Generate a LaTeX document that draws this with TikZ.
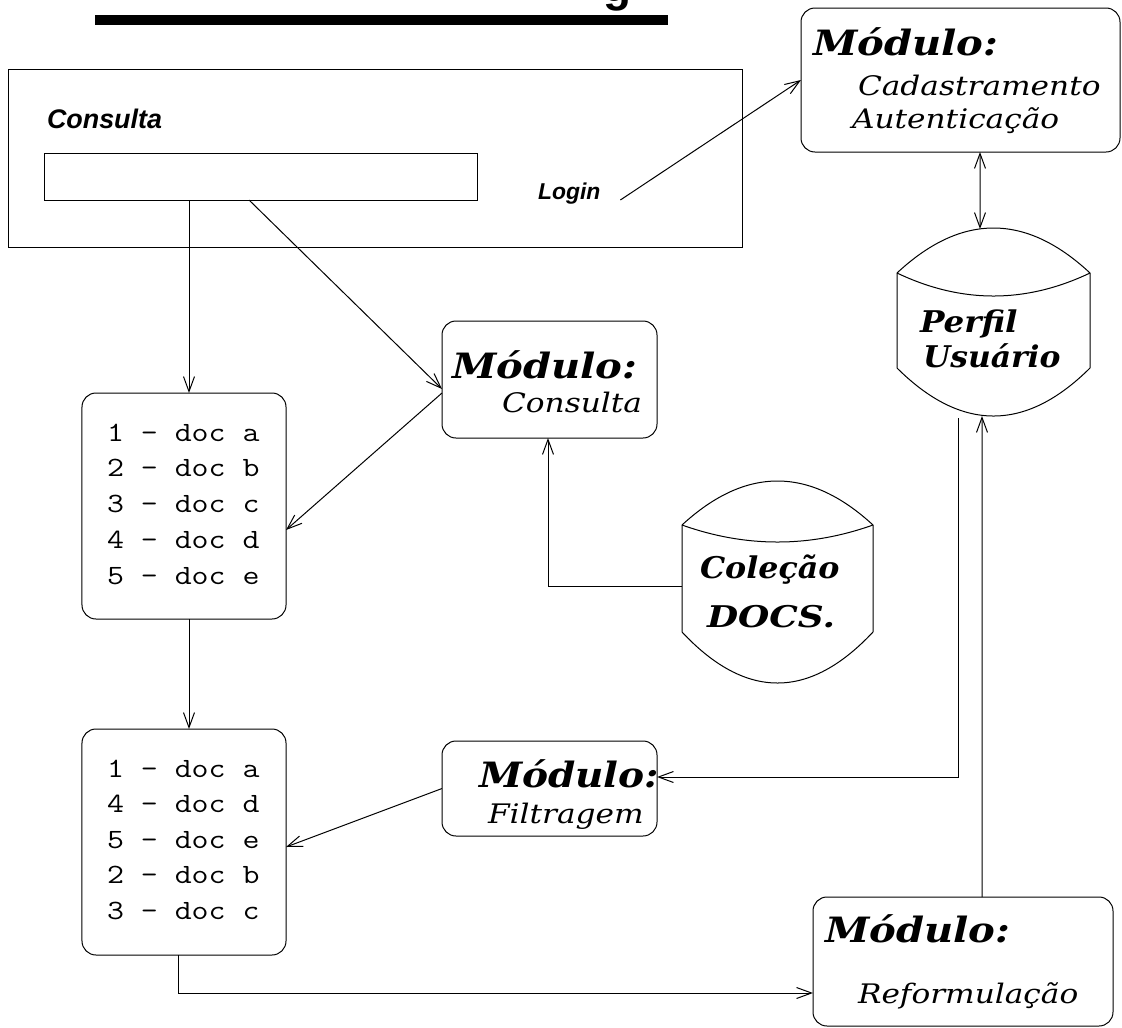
\documentclass[tikz,border=0pt]{standalone}
\usepackage{fontspec}
\usetikzlibrary{arrows.meta,calc}
\newfontfamily\sansbi{Liberation Sans}
\newfontfamily\serifwide{DejaVu Serif}
% horizontally widened text
\newcommand\wide[2][1.15]{\scalebox{#1}[1]{#2}}
% drum (database) outline: left x, right x, top apex, rim, inner apex, side bottom, bottom apex
\newcommand\drumpath[7]{%
  \pgfmathsetmacro\dmA{#1+(#2-#1)/3}%
  \pgfmathsetmacro\dmB{#2-(#2-#1)/3}%
  \pgfmathsetmacro\dmT{(#3-0.25*#4)/0.75}%
  \pgfmathsetmacro\dmI{(#5-0.25*#4)/0.75}%
  \pgfmathsetmacro\dmE{(#7-0.25*#6)/0.75}%
  \draw[outline] (#1,#4) .. controls (\dmA,\dmT) and (\dmB,\dmT) .. (#2,#4)
    -- (#2,#6) .. controls (\dmB,\dmE) and (\dmA,\dmE) .. (#1,#6) -- cycle;
  \draw[outline] (#1,#4) .. controls (\dmA,\dmI) and (\dmB,\dmI) .. (#2,#4);
}
\tikzset{
  outline/.style={line width=1bp, draw=black},
  plainbox/.style={outline, inner sep=0, outer sep=0},
  roundbox/.style={outline, rounded corners=14bp, inner sep=0, outer sep=0},
  holder/.style={inner sep=0, outer sep=0},
  arr/.style={line width=1bp, -{Straight Barb[length=15bp,width=11bp]}},
  dblarr/.style={line width=1bp, {Straight Barb[length=15bp,width=11bp]}-{Straight Barb[length=15bp,width=11bp]}},
  txt/.style={anchor=base west, inner sep=0, outer sep=0},
  modfont/.style={txt, font=\serifwide\fontsize{35}{40}\selectfont\bfseries\itshape},
  drumfont/.style={txt, font=\serifwide\fontsize{30}{34}\selectfont\bfseries\itshape},
  itfont/.style={txt, font=\serifwide\fontsize{27}{33}\selectfont\itshape},
  monotxt/.style={txt, font=\ttfamily\fontsize{28}{34}\selectfont},
  sanslabel/.style={txt, font=\sansbi\bfseries\itshape\fontsize{27}{31}\selectfont},
}
\begin{document}
\begin{tikzpicture}[x=1bp,y=-1bp]
\useasboundingbox (0,0) rectangle (1122,1028);

% heading (only its lower part lies on the page) and its rule
\node[txt, font=\sansbi\bfseries\fontsize{46}{50}\selectfont] (heading) at (603,1) {g};
\fill (95,15) rectangle (668,25);

% query window
\node[plainbox, minimum width=733bp, minimum height=178bp] (frame) at (375.5,158) {};
\node[plainbox, minimum width=432bp, minimum height=47bp] (search) at (261,176.5) {};
\node[sanslabel] (conslabel) at (47,128) {Consulta};
\node[sanslabel, font=\sansbi\bfseries\itshape\fontsize{23}{27}\selectfont] (login) at (538,199) {Login};

% module boxes
\node[roundbox, minimum width=319bp, minimum height=144bp] (mcad) at (960.5,80) {};
\node[modfont] (mcadA) at (813,55) {\wide{Módulo:}};
\node[itfont] (mcadB) at (858,95) {\wide[1.16]{Cadastramento}};
\node[itfont] (mcadC) at (852,128) {\wide[1.16]{Autenticação}};

\node[roundbox, minimum width=215bp, minimum height=117bp] (mcons) at (549.5,379.5) {};
\node[modfont] (mconsA) at (452,378) {\wide{Módulo:}};
\node[itfont] (mconsB) at (502,412) {\wide[1.16]{Consulta}};

\node[roundbox, minimum width=215bp, minimum height=95bp] (mfilt) at (549.5,788.5) {};
\node[modfont] (mfiltA) at (479,787) {\wide[1.12]{Módulo:}};
\node[itfont] (mfiltB) at (488,823) {\wide[1.16]{Filtragem}};

\node[roundbox, minimum width=300bp, minimum height=129bp] (mref) at (963,961.5) {};
\node[modfont] (mrefA) at (825,942) {\wide{Módulo:}};
\node[itfont] (mrefB) at (858,1003) {\wide[1.16]{Reformulação}};

% result lists
\node[roundbox, minimum width=204bp, minimum height=226bp] (list1) at (184,506) {};
\foreach \t [count=\i] in {1 – doc a, 2 – doc b, 3 – doc c, 4 – doc d, 5 – doc e}
  \node[monotxt] (listA\i) at (107,{441+(\i-1)*35.75}) {\wide[1.18]{\t}};

\node[roundbox, minimum width=204bp, minimum height=226bp] (list2) at (184,842) {};
\foreach \t [count=\i] in {1 – doc a, 4 – doc d, 5 – doc e, 2 – doc b, 3 – doc c}
  \node[monotxt] (listB\i) at (107,{777+(\i-1)*35.5}) {\wide[1.18]{\t}};

% data stores
\node[holder, minimum width=193bp, minimum height=188bp] (perfil) at (993.5,322) {};
\drumpath{897}{1090}{228}{273}{296}{368}{416}
\node[drumfont] (perfilA) at (920,332) {\wide[1.09]{Perfil}};
\node[drumfont] (perfilB) at (923,367) {\wide[1.05]{Usuário}};

\node[holder, minimum width=191bp, minimum height=202bp] (colec) at (777.5,581.5) {};
\drumpath{682}{873}{481}{525}{542}{632}{683}
\node[drumfont] (colecA) at (700,578) {\wide[1.06]{Coleção}};
\node[drumfont] (colecB) at (707,627) {\wide[1.2]{DOCS.}};

% connectors
\path ([xshift=5bp]list1.north) coordinate (l1top)
      ([xshift=5bp]list1.south) coordinate (l1bot)
      ([xshift=5bp]list2.north) coordinate (l2top);
\draw[arr] (search.south -| l1top) -- (l1top);
\draw[arr] ([xshift=-12bp]search.south) -- ([yshift=-9.5bp]mcons.west);
\draw[arr] ([yshift=-13.5bp]mcons.west) -- ([yshift=-24bp]list1.east);
\draw[arr] (l1bot) -- (l2top);
\draw[arr] (mfilt.west) -- ([yshift=-5bp]list2.east);
\draw[arr] ([xshift=-6bp]list2.south) |- ([yshift=-31.5bp]mref.west);
\draw[arr] ([xshift=19bp]mref.north) -- ([xshift=-11.5bp]perfil.south);
\draw[arr] ([xshift=-35.5bp,yshift=-2bp]perfil.south) |- ([yshift=11.5bp]mfilt.east);
\draw[dblarr] ([xshift=19.5bp]mcad.south) -- ([xshift=-13.5bp,yshift=-1bp]perfil.north);
\draw[arr] ([xshift=20bp,yshift=-1bp]login.base east) -- (mcad.west);
\draw[arr] ([yshift=-4.5bp]colec.west) -| ([xshift=-1.5bp]mcons.south);
\end{tikzpicture}
\end{document}
